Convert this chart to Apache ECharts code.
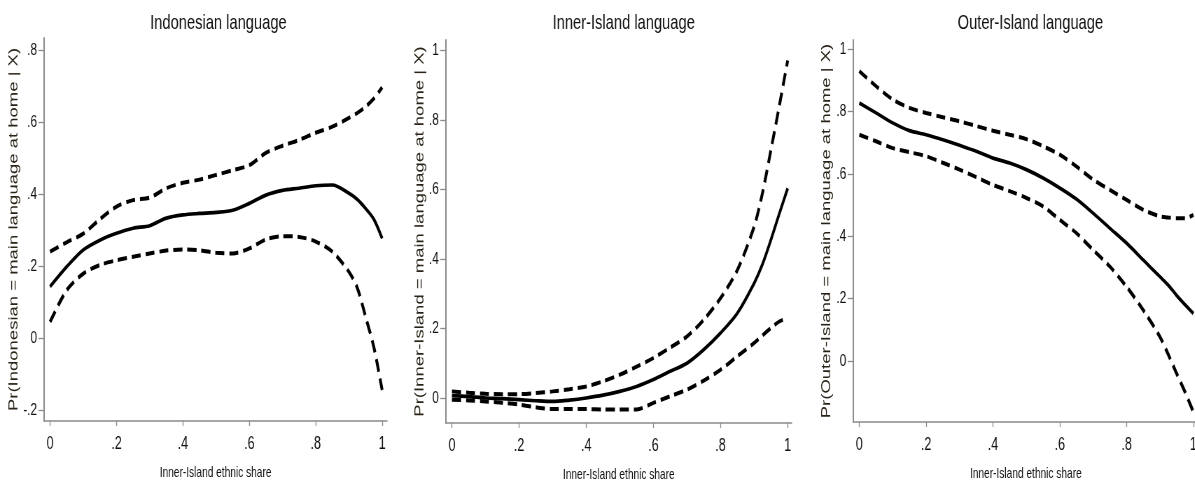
<!DOCTYPE html>
<html>
<head>
<meta charset="utf-8">
<script src="https://cdn.jsdelivr.net/npm/echarts@6/dist/echarts.min.js"></script>
<style>
  html, body { margin: 0; padding: 0; background: #fff; overflow: hidden; width: 1195px; height: 482px; }
  /* the original graph is a Stata export squeezed horizontally; draw wide, then squeeze */
  #main { width: 1707px; height: 482px; transform: scaleX(0.7); transform-origin: 0 0; }
</style>
</head>
<body>
<div id="main"></div>
<script>
// x grid (Inner-Island ethnic share)
var xs = [0, 0.05, 0.1, 0.15, 0.2, 0.25, 0.3, 0.35, 0.4, 0.45, 0.5, 0.55, 0.6, 0.65, 0.7, 0.75, 0.8, 0.85, 0.9, 0.925, 0.95, 0.975, 1];

// Indonesian language
var indoFit   = [0.143, 0.198, 0.245, 0.272, 0.291, 0.305, 0.312, 0.333, 0.342, 0.346, 0.349, 0.355, 0.374, 0.397, 0.410, 0.416, 0.423, 0.425, 0.402, 0.385, 0.360, 0.330, 0.277];
var indoUpper = [0.240, 0.266, 0.290, 0.330, 0.365, 0.383, 0.390, 0.416, 0.431, 0.440, 0.453, 0.466, 0.480, 0.514, 0.534, 0.550, 0.570, 0.587, 0.611, 0.625, 0.642, 0.665, 0.696];
var indoLower = [0.045, 0.133, 0.179, 0.203, 0.216, 0.226, 0.235, 0.243, 0.246, 0.244, 0.237, 0.235, 0.249, 0.274, 0.283, 0.281, 0.268, 0.240, 0.184, 0.140, 0.060, -0.025, -0.144];

// Inner-Island language
var innerFit   = [0.007, 0.004, 0.000, -0.002, -0.005, -0.008, -0.010, -0.006, 0.000, 0.008, 0.019, 0.033, 0.053, 0.077, 0.100, 0.139, 0.187, 0.244, 0.330, 0.385, 0.455, 0.530, 0.603];
var innerUpper = [0.019, 0.015, 0.012, 0.011, 0.011, 0.014, 0.019, 0.025, 0.033, 0.048, 0.067, 0.090, 0.115, 0.145, 0.177, 0.225, 0.287, 0.368, 0.493, 0.590, 0.713, 0.840, 0.971];
var innerLower = [-0.005, -0.007, -0.010, -0.014, -0.019, -0.027, -0.032, -0.032, -0.032, -0.033, -0.033, -0.033, -0.014, 0.005, 0.024, 0.050, 0.081, 0.120, 0.158, 0.180, 0.201, 0.220, 0.230];

// Outer-Island language
var outerFit   = [0.828, 0.796, 0.764, 0.739, 0.726, 0.710, 0.692, 0.673, 0.651, 0.635, 0.614, 0.587, 0.555, 0.519, 0.474, 0.426, 0.378, 0.324, 0.270, 0.243, 0.210, 0.180, 0.152];
var outerUpper = [0.930, 0.882, 0.839, 0.812, 0.796, 0.782, 0.769, 0.754, 0.739, 0.726, 0.712, 0.689, 0.662, 0.624, 0.582, 0.549, 0.517, 0.485, 0.464, 0.460, 0.458, 0.458, 0.469];
var outerLower = [0.726, 0.705, 0.683, 0.670, 0.657, 0.636, 0.614, 0.590, 0.565, 0.545, 0.523, 0.496, 0.453, 0.410, 0.356, 0.303, 0.238, 0.163, 0.077, 0.020, -0.041, -0.100, -0.164];

// tick values
var xTicks = [0, 0.2, 0.4, 0.6, 0.8, 1];
var yTicksIndo = [-0.2, 0, 0.2, 0.4, 0.6, 0.8];
var yTicksUnit = [0, 0.2, 0.4, 0.6, 0.8, 1];

var titles = ['Indonesian language', 'Inner-Island language', 'Outer-Island language'];
var yNames = [
  'Pr(Indonesian = main language at home | X)',
  'Pr(Inner-Island = main language at home | X)',
  'Pr(Outer-Island = main language at home | X)'
];
var xName = 'Inner-Island ethnic share';

var font = '"Liberation Sans", Arial, sans-serif';
var axisGray = '#8a8a8a';

function fmt(v) {
  var s = String(Math.round(v * 10) / 10);
  return s.replace('0.', '.');
}

function pairs(vals) {
  var out = [];
  for (var i = 0; i < xs.length; i++) out.push([xs[i], vals[i]]);
  return out;
}

// layout in the unsqueezed (1707 wide) space
var grids = [
  { left: 63, top: 38, width: 490, height: 383 },
  { left: 637, top: 40, width: 494, height: 383 },
  { left: 1219, top: 40, width: 493, height: 382 }
];
var xRanges = [[-0.018, 1.015], [-0.018, 1.012], [-0.018, 1.015]];
var yRanges = [[-0.23, 0.833], [-0.072, 1.03], [-0.196, 1.03]];
var yTickSets = [yTicksIndo, yTicksUnit, yTicksUnit];
var yNameGaps = [34, 27, 29];
var centers = [307, 886, 1467];

var option = {
  backgroundColor: '#ffffff',
  animation: false,
  title: [],
  grid: [],
  xAxis: [],
  yAxis: [],
  series: []
};

for (var p = 0; p < 3; p++) {
  option.title.push({
    text: titles[p],
    left: centers[p],
    top: 8,
    textAlign: 'center',
    textStyle: { fontFamily: font, fontSize: 21, fontWeight: 'normal', color: '#111' }
  });
  option.grid.push(Object.assign({ outerBoundsMode: 'none', containLabel: false }, grids[p]));
  option.xAxis.push({
    type: 'value',
    gridIndex: p,
    min: xRanges[p][0],
    max: xRanges[p][1],
    name: xName,
    nameLocation: 'middle',
    nameGap: 44,
    nameTextStyle: { fontFamily: font, fontSize: 14.5, color: '#111' },
    axisLine: { show: true, onZero: false, lineStyle: { color: axisGray, width: 1.5 } },
    axisTick: { show: true, inside: false, length: 5, customValues: xTicks, lineStyle: { color: axisGray, width: 1.3 } },
    axisLabel: { customValues: xTicks, formatter: fmt, margin: 14, fontFamily: font, fontSize: 18, color: '#111' },
    splitLine: { show: false }
  });
  option.yAxis.push({
    type: 'value',
    gridIndex: p,
    min: yRanges[p][0],
    max: yRanges[p][1],
    name: yNames[p],
    nameLocation: 'middle',
    nameGap: yNameGaps[p],
    nameRotate: 90,
    nameTextStyle: { fontFamily: font, fontSize: 18.5, color: '#2a2418' },
    axisLine: { show: true, onZero: false, lineStyle: { color: axisGray, width: 2 } },
    axisTick: { show: true, inside: false, length: 8, customValues: yTickSets[p], lineStyle: { color: axisGray, width: 1.3 } },
    axisLabel: { customValues: yTickSets[p], formatter: fmt, margin: 10, fontFamily: font, fontSize: 17, color: '#111' },
    splitLine: { show: false }
  });
}

var panelData = [
  [indoFit, indoUpper, indoLower],
  [innerFit, innerUpper, innerLower],
  [outerFit, outerUpper, outerLower]
];

for (var k = 0; k < 3; k++) {
  for (var j = 0; j < 3; j++) {
    option.series.push({
      type: 'line',
      xAxisIndex: k,
      yAxisIndex: k,
      data: pairs(panelData[k][j]),
      smooth: 0.3,
      showSymbol: false,
      symbol: 'none',
      clip: false,
      lineStyle: j === 0
        ? { color: '#000', width: 3.7, type: 'solid' }
        : { color: '#000', width: 4, type: [13, 7], cap: 'butt' }
    });
  }
}

var chart = echarts.init(document.getElementById('main'));
chart.setOption(option);
</script>
</body>
</html>
